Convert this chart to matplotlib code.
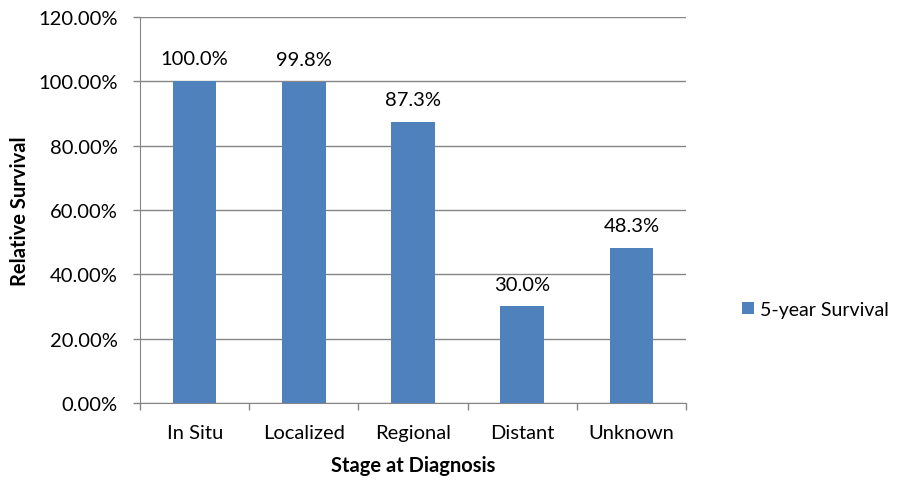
import matplotlib
matplotlib.use("Agg")
import matplotlib.pyplot as plt
import numpy as np

# stage categories and 5-year relative survival (%)
stages = ["In Situ", "Localized", "Regional", "Distant", "Unknown"]
survival = [100.0, 99.8, 87.3, 30.0, 48.3]
series_name = "5-year Survival"

plt.rcParams['font.family'] = ['Lato', 'DejaVu Sans']

bar_color = "#4F81BD"
grid_color = "#868686"
text_color = "#000000"
fs = 14.5

fig = plt.figure(figsize=(9, 4.81), dpi=100)
ax = fig.add_axes([0.1556, 0.1601, 0.6067, 0.8025])

x = np.arange(len(stages))
bars = ax.bar(x, survival, width=0.4, color=bar_color, label=series_name, zorder=3)

# value labels above each bar
for xi, v in zip(x, survival):
    ax.annotate(f"{v:.1f}%", (xi, v), xytext=(0, 10), textcoords="offset points",
                ha="center", va="bottom", fontsize=fs, color=text_color)

ax.set_xlim(-0.5, len(stages) - 0.5)
ax.set_ylim(0, 120)
yt = np.arange(0, 121, 20)
ax.set_yticks(yt)
ax.set_yticklabels([f"{v:.2f}%" for v in yt], fontsize=fs, color=text_color)
ax.yaxis.grid(True, color=grid_color, linewidth=1, zorder=0)

# category labels centred, tick marks on boundaries
ax.set_xticks(x)
ax.set_xticklabels(stages, fontsize=fs, color=text_color)
ax.tick_params(axis="x", length=0, pad=15)
ax.set_xticks(np.arange(-0.5, len(stages)), minor=True)
ax.tick_params(axis="x", which="minor", length=5, color=grid_color, width=1)
ax.tick_params(axis="y", length=5, color=grid_color, width=1, pad=11)

for side in ["top", "right"]:
    ax.spines[side].set_visible(False)
ax.spines["left"].set_color(grid_color)
ax.spines["bottom"].set_color(grid_color)

ax.set_xlabel("Stage at Diagnosis", fontsize=fs, fontweight="bold", labelpad=10)
ax.set_ylabel("Relative Survival", fontsize=fs, fontweight="bold", labelpad=6)

fig.legend(handles=[bars], labels=[series_name], loc="center left",
           bbox_to_anchor=(0.805, 0.355), frameon=False, fontsize=14,
           handlelength=0.6, handleheight=0.6, handletextpad=0.3)

fig.savefig("out.png", dpi=100)
